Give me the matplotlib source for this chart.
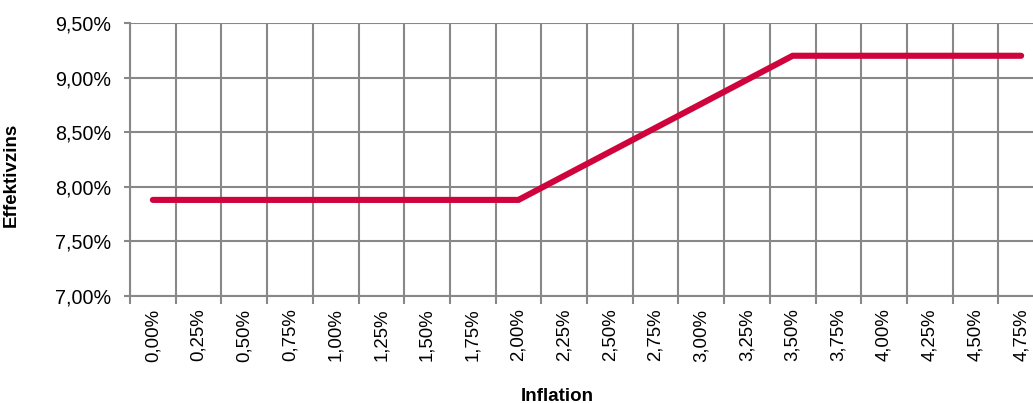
import matplotlib
matplotlib.use("Agg")
import matplotlib.pyplot as plt
import numpy as np

# Inflation scenarios (categories) and resulting effective interest rate in %
inflation_labels = ["0,00%", "0,25%", "0,50%", "0,75%", "1,00%", "1,25%", "1,50%",
                    "1,75%", "2,00%", "2,25%", "2,50%", "2,75%", "3,00%", "3,25%",
                    "3,50%", "3,75%", "4,00%", "4,25%", "4,50%", "4,75%"]
effektivzins = [7.88, 7.88, 7.88, 7.88, 7.88, 7.88, 7.88, 7.88, 7.88,
                8.10, 8.32, 8.54, 8.76, 8.98, 9.20,
                9.20, 9.20, 9.20, 9.20, 9.20]
y_ticks = [7.00, 7.50, 8.00, 8.50, 9.00, 9.50]
y_tick_labels = ["7,00%", "7,50%", "8,00%", "8,50%", "9,00%", "9,50%"]

plt.rcParams["font.family"] = ["Liberation Sans", "DejaVu Sans"]

W, H = 1033, 403
fig = plt.figure(figsize=(W / 100, H / 100), dpi=100)
left, right, top, bottom = 130, 1044, 23, 296
ax = fig.add_axes([left / W, 1 - bottom / H, (right - left) / W, (bottom - top) / H])

grid_col = "#888888"
x = np.arange(len(inflation_labels))
ax.plot(x, effektivzins, color="#D0043C", lw=4.4, solid_capstyle="round",
        solid_joinstyle="miter", zorder=3, clip_on=False)

ax.set_xlim(-0.5, len(inflation_labels) - 0.5)
ax.set_ylim(7.0, 9.5)

ax.set_xticks(x)
ax.set_xticklabels(inflation_labels, rotation=90, fontsize=13.4, color="#000000")
ax.set_xticks(np.arange(len(inflation_labels) + 1) - 0.5, minor=True)
ax.tick_params(axis="x", which="major", length=0, pad=9)
ax.tick_params(axis="x", which="minor", length=6, width=1.5, color=grid_col, direction="out")

ax.set_yticks(y_ticks)
ax.set_yticklabels(y_tick_labels, fontsize=14.2, color="#000000")
ax.tick_params(axis="y", length=4.5, width=1.5, color=grid_col, pad=9)

ax.grid(True, which="minor", axis="x", color=grid_col, lw=1.5)
ax.grid(True, which="major", axis="y", color=grid_col, lw=1.5)
ax.set_axisbelow(True)

for side in ["top", "right"]:
    ax.spines[side].set_visible(False)
for side in ["left", "bottom"]:
    ax.spines[side].set_color(grid_col)
    ax.spines[side].set_linewidth(1.5)

ax.set_ylabel("Effektivzins", fontsize=13.5, fontweight="bold")
ax.yaxis.set_label_coords((20 - left) / (right - left), (bottom - 175) / (bottom - top))
fig.text(557 / W, 1 - 401 / H, "Inflation", fontsize=13.5, fontweight="bold",
         ha="center", va="baseline")

fig.savefig("out.png", dpi=100)
